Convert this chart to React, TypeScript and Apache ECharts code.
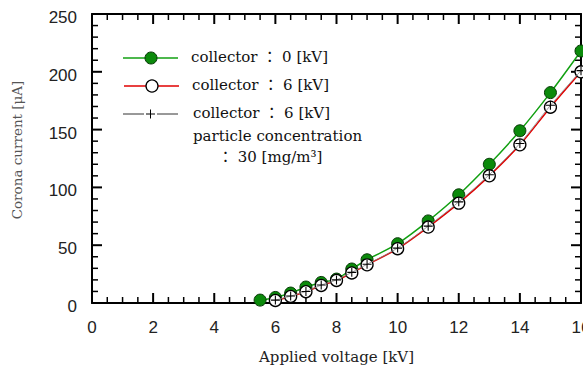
import React, { useEffect, useRef } from "react";
import * as echarts from "echarts";

// Applied voltage [kV] and corona current [μA]
const voltageNoBias = [5.5, 6, 6.5, 7, 7.5, 8, 8.5, 9, 10, 11, 12, 13, 14, 15, 16];
const currentNoBias = [2.5, 4.8, 8.6, 13.8, 17.8, 20.7, 29.4, 37.4, 51.3, 71, 93.6, 120, 149, 182, 218];

const voltageBias = [6, 6.5, 7, 7.5, 8, 8.5, 9, 10, 11, 12, 13, 14, 15, 16];
const currentBias = [2.2, 5.7, 9.8, 15.2, 19.5, 26, 33, 47, 65.7, 86.4, 110, 136.8, 169.4, 200];
const currentParticle = [2.5, 6, 10, 15.5, 20, 26.5, 33.5, 47.5, 66.5, 87.5, 111, 138, 171, 201];

const legendLabels = [
  "collector ： 0 [kV]",
  "collector ： 6 [kV]",
  "collector ： 6 [kV]",
  "particle concentration",
  "： 30 [mg/m³]",
];

// axis ranges and tick spacing
const X_MAX = 16;
const X_MAJOR = 2;
const X_MINOR = 0.5;
const Y_MAX = 250;
const Y_MAJOR = 50;
const Y_MINOR = 10;

const GREEN = "#12a012";
const GREEN_MARK = "#0b8a0b";
const RED = "#e00000";
const SERIF = "'DejaVu Serif', 'Liberation Serif', 'Noto Sans CJK KR', serif";
const SANS = "'Liberation Sans', Arial, sans-serif";
const PLUS = "path://M4.4,0h1.2v4.4h4.4v1.2h-4.4v4.4h-1.2v-4.4h-4.4v-1.2h4.4z";

const zip = (xs: number[], ys: number[]) => xs.map((x, i) => [x, ys[i]]);

export default function App() {
  const ref = useRef<HTMLDivElement>(null);

  useEffect(() => {
    if (!ref.current) return;
    const chart = echarts.init(ref.current, null, { renderer: "svg" });

    const frameLine = { show: true, onZero: false, lineStyle: { color: "#000", width: 2 } };
    const hidden = { show: false };

    chart.setOption({
      animation: false,
      grid: { left: 92, right: 2, top: 14, bottom: 69, outerBoundsMode: "none", containLabel: false },
      xAxis: [
        {
          type: "value",
          min: 0,
          max: X_MAX,
          interval: X_MAJOR,
          position: "bottom",
          axisLine: frameLine,
          axisTick: hidden,
          splitLine: hidden,
          axisLabel: { margin: 16, color: "#222", fontSize: 17, fontFamily: SANS },
          name: "Applied voltage [kV]",
          nameLocation: "middle",
          nameGap: 46,
          nameTextStyle: { color: "#222", fontSize: 15, fontFamily: SERIF },
        },
        {
          type: "value",
          min: 0,
          max: X_MAX,
          interval: X_MAJOR,
          position: "top",
          axisLine: frameLine,
          axisTick: hidden,
          splitLine: hidden,
          axisLabel: hidden,
        },
      ],
      yAxis: [
        {
          type: "value",
          min: 0,
          max: Y_MAX,
          interval: Y_MAJOR,
          position: "left",
          axisLine: frameLine,
          axisTick: hidden,
          splitLine: hidden,
          axisLabel: {
            margin: 15,
            color: "#222",
            fontSize: 17,
            fontFamily: SANS,
            verticalAlign: "top",
            lineHeight: 7,
          },
        },
        {
          type: "value",
          min: 0,
          max: Y_MAX,
          interval: Y_MAJOR,
          position: "right",
          axisLine: frameLine,
          axisTick: hidden,
          splitLine: hidden,
          axisLabel: hidden,
        },
      ],
      series: [
        {
          name: "collector 0 kV",
          type: "line",
          smooth: 0.3,
          data: zip(voltageNoBias, currentNoBias),
          lineStyle: { color: GREEN, width: 1.5 },
          symbol: "circle",
          symbolSize: 12,
          itemStyle: { color: GREEN_MARK, borderColor: "#063806", borderWidth: 1 },
          z: 2,
        },
        {
          name: "collector 6 kV",
          type: "line",
          smooth: 0.3,
          data: zip(voltageBias, currentBias),
          lineStyle: { color: RED, width: 1.5 },
          symbol: "circle",
          symbolSize: 12,
          itemStyle: { color: "#fff", borderColor: "#000", borderWidth: 1.3 },
          z: 3,
        },
        {
          name: "collector 6 kV, 30 mg/m3",
          type: "line",
          smooth: 0.3,
          data: zip(voltageBias, currentParticle),
          lineStyle: { color: "#888", width: 0.8 },
          symbol: PLUS,
          symbolSize: 9,
          itemStyle: { color: "#000", borderWidth: 0 },
          z: 4,
        },
      ],
    });

    // inward ticks on all four sides of the frame, placed via the axis scales
    const px = (v: number) => chart.convertToPixel({ xAxisIndex: 0 }, v) as number;
    const py = (v: number) => chart.convertToPixel({ yAxisIndex: 0 }, v) as number;
    const left = px(0);
    const right = px(X_MAX);
    const bottom = py(0);
    const top = py(Y_MAX);
    const ticks: any[] = [];
    const tick = (x1: number, y1: number, x2: number, y2: number, major: boolean) =>
      ticks.push({
        type: "line",
        silent: true,
        shape: { x1, y1, x2, y2 },
        style: { stroke: "#000", lineWidth: major ? 2 : 1.5 },
      });
    for (let i = 1; i * X_MINOR < X_MAX; i++) {
      const v = i * X_MINOR;
      const major = Math.abs(v / X_MAJOR - Math.round(v / X_MAJOR)) < 1e-9;
      const len = major ? 10 : 6;
      const x = px(v);
      tick(x, bottom, x, bottom - len, major);
      tick(x, top, x, top + len, major);
    }
    for (let i = 1; i * Y_MINOR < Y_MAX; i++) {
      const v = i * Y_MINOR;
      const major = v % Y_MAJOR === 0;
      const len = major ? 10 : 6;
      const y = py(v);
      tick(left, y, left + len, y, major);
      tick(right, y, right - len, y, major);
    }

    const legendText = (text: string, x: number, y: number) => ({
      type: "text",
      x,
      y,
      style: { text, font: `15px ${SERIF}`, fill: "#111", verticalAlign: "middle" },
    });

    chart.setOption({
      graphic: [
        // frame ticks stay beneath the series markers
        { type: "group", z: 1, zlevel: 0, children: ticks },
        // y axis title
        {
          type: "text",
          x: 17,
          y: 150,
          rotation: Math.PI / 2,
          style: {
            text: "Corona current [μA]",
            font: `13.5px ${SERIF}`,
            fill: "#555",
            align: "center",
            verticalAlign: "middle",
          },
        },
        // row 1: green line with filled circle
        { type: "line", shape: { x1: 123, y1: 58, x2: 178, y2: 58 }, style: { stroke: GREEN, lineWidth: 1.5 } },
        { type: "circle", shape: { cx: 151, cy: 58, r: 6 }, style: { fill: GREEN_MARK, stroke: "#063806", lineWidth: 1 } },
        legendText(legendLabels[0], 191, 57),
        // row 2: red line with hollow circle
        { type: "line", shape: { x1: 124, y1: 86, x2: 179, y2: 86 }, style: { stroke: RED, lineWidth: 1.5 } },
        { type: "circle", shape: { cx: 152, cy: 86, r: 6 }, style: { fill: "#fff", stroke: "#000", lineWidth: 1.3 } },
        legendText(legendLabels[1], 192, 85),
        // row 3: thin line with plus
        { type: "line", shape: { x1: 123, y1: 114, x2: 144, y2: 114 }, style: { stroke: "#333", lineWidth: 1 } },
        { type: "line", shape: { x1: 157, y1: 114, x2: 178, y2: 114 }, style: { stroke: "#333", lineWidth: 1 } },
        { type: "line", shape: { x1: 146, y1: 114, x2: 155, y2: 114 }, style: { stroke: "#000", lineWidth: 1 } },
        { type: "line", shape: { x1: 150.5, y1: 109.5, x2: 150.5, y2: 118.5 }, style: { stroke: "#000", lineWidth: 1 } },
        legendText(legendLabels[2], 193, 113),
        legendText(legendLabels[3], 193, 136),
        legendText(legendLabels[4], 218, 157),
      ],
    });

    return () => chart.dispose();
  }, []);

  return (
    <div
      ref={ref}
      style={{ position: "fixed", left: 0, top: 0, width: 583, height: 372, background: "#fff" }}
    />
  );
}
